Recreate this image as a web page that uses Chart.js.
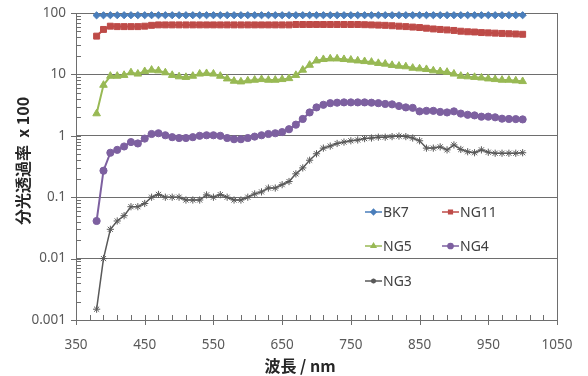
<!DOCTYPE html>
<html>
<head>
<meta charset="utf-8">
<script src="https://cdn.jsdelivr.net/npm/chart.js@4.4.1/dist/chart.umd.min.js"></script>
<style>
  html, body { margin: 0; padding: 0; background: #fff; }
  #wrap { width: 588px; height: 376px; }
</style>
</head>
<body>
<div id="wrap"><canvas id="chart" width="588" height="376"></canvas></div>
<script>
/* ========= DATA ========= */
const wavelengths = [380, 390, 400, 410, 420, 430, 440, 450, 460, 470,
  480, 490, 500, 510, 520, 530, 540, 550, 560, 570,
  580, 590, 600, 610, 620, 630, 640, 650, 660, 670,
  680, 690, 700, 710, 720, 730, 740, 750, 760, 770,
  780, 790, 800, 810, 820, 830, 840, 850, 860, 870,
  880, 890, 900, 910, 920, 930, 940, 950, 960, 970,
  980, 990, 1000];

const bk7 = [91.5, 91.8, 92, 92, 92, 92, 92, 92, 92, 92,
  92, 92, 92, 92, 92, 92, 92, 92, 92, 92,
  92, 92, 92, 92, 92, 92, 92, 92, 92, 92,
  92, 92, 92, 92, 92, 92, 92, 92, 92, 92,
  92, 92, 92, 92, 92, 92, 92, 92, 92, 92,
  92, 92, 92, 92, 92, 92, 92, 92, 92, 92,
  92, 92, 92];

const ng11 = [42, 54, 61, 60, 60, 60, 60, 61, 63, 64,
  64, 64, 64, 64, 64, 64, 64, 64, 64, 64,
  64, 64, 64, 64, 64, 64, 64, 64, 64, 65,
  65, 65, 65, 65, 65, 65, 65, 65, 65, 64.5,
  64, 63.5, 63, 62, 61, 60, 59, 58, 56.5, 55,
  54, 53, 52, 50.5, 49.5, 49, 48, 47.5, 47, 46.5,
  46, 45.5, 45];

const ng5 = [2.3, 6.7, 9.4, 9.4, 9.7, 10.7, 10.2, 11.2, 11.8, 11.5,
  10.7, 9.7, 9.2, 9.0, 9.4, 10.2, 10.4, 10.2, 9.4, 8.5,
  7.8, 7.6, 7.9, 8.1, 8.3, 8.1, 8.1, 8.3, 8.6, 9.7,
  11.8, 14.2, 16.7, 17.6, 18.0, 18.0, 17.6, 17.2, 16.7, 16.3,
  15.9, 15.2, 14.8, 14.1, 13.7, 13.4, 12.7, 12.4, 12.1, 11.5,
  11.2, 10.9, 10.2, 9.4, 9.2, 9.0, 8.8, 8.5, 8.3, 8.1,
  8.1, 7.9, 7.7];

const ng4 = [0.041, 0.27, 0.53, 0.59, 0.67, 0.79, 0.75, 0.90, 1.07, 1.10,
  1.02, 0.95, 0.92, 0.92, 0.95, 1.0, 1.02, 1.02, 1.0, 0.92,
  0.88, 0.88, 0.92, 0.97, 1.02, 1.07, 1.10, 1.15, 1.28, 1.52,
  1.88, 2.4, 2.9, 3.2, 3.4, 3.46, 3.5, 3.5, 3.5, 3.5,
  3.46, 3.4, 3.3, 3.25, 3.05, 2.9, 2.85, 2.5, 2.55, 2.55,
  2.45, 2.4, 2.5, 2.3, 2.2, 2.15, 2.05, 2.05, 2.0, 1.9,
  1.88, 1.87, 1.85];

const ng3 = [0.0015, 0.010, 0.030, 0.041, 0.050, 0.070, 0.070, 0.079, 0.100, 0.111,
  0.100, 0.100, 0.100, 0.090, 0.090, 0.090, 0.109, 0.100, 0.110, 0.100,
  0.090, 0.090, 0.100, 0.113, 0.122, 0.141, 0.141, 0.160, 0.180, 0.24,
  0.30, 0.40, 0.51, 0.63, 0.68, 0.75, 0.79, 0.83, 0.855, 0.90,
  0.92, 0.95, 0.95, 0.97, 0.99, 0.97, 0.92, 0.83, 0.63, 0.63,
  0.66, 0.59, 0.71, 0.60, 0.55, 0.53, 0.59, 0.54, 0.52, 0.52,
  0.52, 0.52, 0.53];

const seriesNames = ["BK7", "NG11", "NG5", "NG4", "NG3"];
const yTickValues = [0.001, 0.01, 0.1, 1, 10, 100];
const yTickLabels = ["0.001", "0.01", "0.1", "1", "10", "100"];
const xTitle = "波長 / nm";
const yTitle = "分光透過率  x 100";

/* ========= STYLE ========= */
const GRID = "#6e6e6e";
const TICK_FONT = { family: "'Noto Sans', sans-serif", size: 13.5 };
const TITLE_FONT = "bold 16px 'Noto Sans CJK JP', sans-serif";

const looks = [
  { color: "#4A7EBB", point: "rectRot", r: 3.6, lw: 2 },
  { color: "#BE4B48", point: "rect", r: 4.2, lw: 2 },
  { color: "#98B954", point: "triangle", r: 4.4, lw: 2 },
  { color: "#7D60A0", point: "circle", r: 3.6, lw: 2 },
  { color: "#595959", point: "star", r: 3.6, lw: 1.5 }
];

function series(values, i) {
  const s = looks[i];
  return {
    label: seriesNames[i],
    data: wavelengths.map((w, k) => ({ x: w, y: values[k] })),
    showLine: true,
    borderColor: s.color,
    backgroundColor: s.color,
    borderWidth: s.lw,
    pointStyle: s.point,
    pointRadius: s.r,
    pointBorderWidth: 1,
    pointBorderColor: s.color,
    pointBackgroundColor: s.color,
    tension: 0,
    clip: false
  };
}

/* ========= PLUGIN: ticks, border, legend, titles ========= */
const decorations = {
  id: "decorations",
  beforeDatasetsDraw(chart) {
    const { ctx, chartArea: a, scales: { x, y } } = chart;
    ctx.save();
    ctx.strokeStyle = GRID;
    ctx.lineWidth = 1;
    ctx.beginPath();
    // right border
    ctx.moveTo(a.right + 0.5, a.top);
    ctx.lineTo(a.right + 0.5, a.bottom);
    // y minor / major ticks
    for (let d = 0.001; d < 100; d *= 10) {
      for (let m = 1; m < 10; m++) {
        const py = Math.round(y.getPixelForValue(m * d)) + 0.5;
        if (m === 1) {
          ctx.moveTo(a.left - 5, py); ctx.lineTo(a.left + 5, py);
        } else {
          ctx.moveTo(a.left, py); ctx.lineTo(a.left + 5, py);
        }
      }
    }
    const top = Math.round(y.getPixelForValue(100)) + 0.5;
    ctx.moveTo(a.left - 5, top); ctx.lineTo(a.left, top);
    // x minor / major ticks
    for (let v = x.min; v <= x.max; v += 20) {
      const px = Math.round(x.getPixelForValue(v)) + 0.5;
      const major = (v - x.min) % 100 === 0;
      ctx.moveTo(px, a.bottom - 5);
      ctx.lineTo(px, a.bottom + (major ? 5 : 0));
    }
    ctx.stroke();
    ctx.restore();
  },
  afterDraw(chart, args, opts) {
    const { ctx } = chart;
    ctx.save();
    // legend inside the plot
    opts.legend.forEach((pos, i) => {
      const ds = chart.data.datasets[i];
      ctx.strokeStyle = ds.borderColor;
      ctx.fillStyle = ds.borderColor;
      ctx.lineWidth = 1.5;
      ctx.beginPath();
      ctx.moveTo(pos.x, pos.y);
      ctx.lineTo(pos.x + 17, pos.y);
      ctx.stroke();
      Chart.helpers.drawPoint(ctx, {
        pointStyle: ds.pointStyle, radius: 2.6, rotation: 0, borderWidth: 1
      }, pos.x + 8.5, pos.y);
      ctx.fillStyle = "#404040";
      ctx.font = "14px 'Noto Sans', sans-serif";
      ctx.textBaseline = "middle";
      ctx.textAlign = "left";
      ctx.fillText(ds.label, pos.x + 18, pos.y + 1);
    });
    // axis titles
    ctx.fillStyle = "#262626";
    ctx.font = TITLE_FONT;
    ctx.textAlign = "center";
    ctx.textBaseline = "middle";
    ctx.fillText(xTitle, opts.xTitle.x, opts.xTitle.y);
    ctx.translate(opts.yTitle.x, opts.yTitle.y);
    ctx.rotate(-Math.PI / 2);
    ctx.fillText(yTitle, 0, 0);
    ctx.restore();
  }
};

/* ========= CHART ========= */
const chart = new Chart(document.getElementById("chart"), {
  type: "scatter",
  data: {
    datasets: [
      series(bk7, 0),
      series(ng11, 1),
      series(ng5, 2),
      series(ng4, 3),
      series(ng3, 4)
    ]
  },
  options: {
    responsive: false,
    animation: false,
    devicePixelRatio: 1,
    layout: { padding: { top: 13, right: 31, left: 0, bottom: 0 } },
    plugins: {
      legend: { display: false },
      tooltip: { enabled: false },
      decorations: {
        legend: [
          { x: 365, y: 212 },
          { x: 442, y: 212 },
          { x: 365, y: 246 },
          { x: 442, y: 246 },
          { x: 365, y: 281 }
        ],
        xTitle: { x: 300, y: 366 },
        yTitle: { x: 23, y: 161 }
      }
    },
    scales: {
      x: {
        type: "linear",
        min: 350,
        max: 1050,
        afterFit: s => { s.height = 56; s.paddingLeft = 0; s.paddingRight = 0; },
        ticks: {
          stepSize: 100,
          color: "#595959",
          font: TICK_FONT,
          padding: 17,
          callback: v => String(v)
        },
        grid: { display: false, drawTicks: false },
        border: { display: true, color: GRID, width: 1 }
      },
      y: {
        type: "logarithmic",
        min: 0.001,
        max: 100,
        afterFit: s => { s.width = 76; s.paddingTop = 0; s.paddingBottom = 0; },
        afterBuildTicks: s => { s.ticks = yTickValues.map(v => ({ value: v })); },
        ticks: {
          color: "#595959",
          font: TICK_FONT,
          padding: 10,
          callback: (v, i) => yTickLabels[i]
        },
        grid: { color: GRID, lineWidth: 1, drawTicks: false },
        border: { display: true, color: GRID, width: 1 }
      }
    }
  },
  plugins: [decorations]
});
</script>
</body>
</html>
